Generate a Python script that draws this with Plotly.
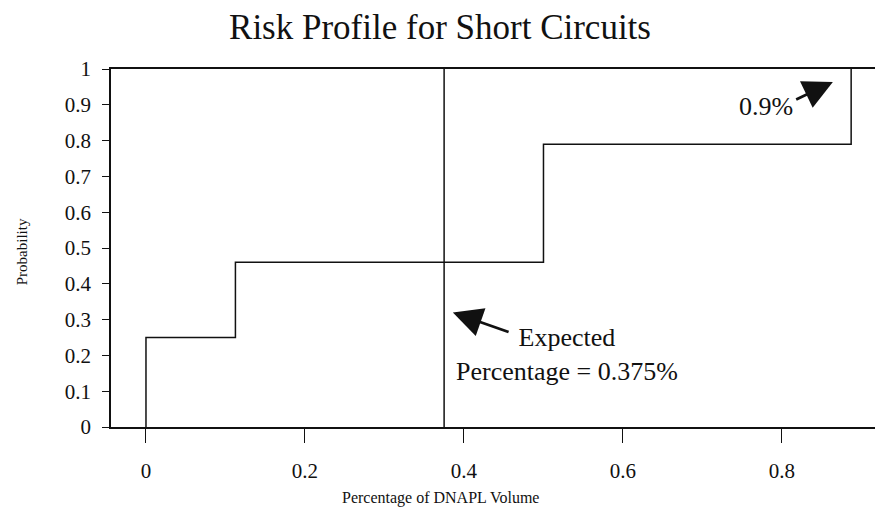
import plotly.graph_objects as go

# Data
step_x = [0, 0, 0.1125, 0.5, 0.887]
step_y = [0, 0.25, 0.46, 0.79, 1.0]
expected_x = [0.375, 0.375]
expected_y = [0, 1]
x_ticks = [0, 0.2, 0.4, 0.6, 0.8]
x_tick_labels = ["0", "0.2", "0.4", "0.6", "0.8"]
y_ticks = [0, 0.1, 0.2, 0.3, 0.4, 0.5, 0.6, 0.7, 0.8, 0.9, 1]
y_tick_labels = ["0", "0.1", "0.2", "0.3", "0.4", "0.5", "0.6", "0.7", "0.8", "0.9", "1"]

FONT = "Liberation Serif, Times New Roman, serif"
INK = "#111111"

fig = go.Figure()
fig.add_trace(go.Scatter(x=step_x, y=step_y, mode="lines", line=dict(color=INK, width=1.5, shape="hv"),
                         showlegend=False, hoverinfo="skip"))
fig.add_trace(go.Scatter(x=expected_x, y=expected_y, mode="lines", line=dict(color=INK, width=1.5),
                         showlegend=False, hoverinfo="skip"))

fig.update_layout(
    width=875, height=525,
    margin=dict(l=111, r=0, t=69, b=98),
    paper_bgcolor="white", plot_bgcolor="white",
    font=dict(family=FONT, color=INK),
    title=dict(text="Risk Profile for Short Circuits", x=440 / 875, xref="container", xanchor="center",
               y=1 - 27 / 525, yref="container", yanchor="middle",
               font=dict(family=FONT, size=35, color=INK)),
    xaxis=dict(range=[-0.044, 0.917], tickvals=x_ticks, ticktext=x_tick_labels,
               showgrid=False, zeroline=False, showline=True, linecolor=INK, linewidth=1.5,
               mirror=True, ticks="outside", ticklen=14, tickcolor=INK, tickwidth=1,
               ticklabelstandoff=10, tickfont=dict(family=FONT, size=21, color=INK)),
    yaxis=dict(range=[0, 1], tickvals=y_ticks, ticktext=y_tick_labels,
               showgrid=False, zeroline=False, showline=True, linecolor=INK, linewidth=1.5,
               ticks="outside", ticklen=7, tickcolor=INK, tickwidth=1,
               ticklabelstandoff=7, tickfont=dict(family=FONT, size=21, color=INK)),
)

annotations = [
    # axis titles
    dict(text="Probability", xref="paper", yref="paper", x=(22 - 111) / 764, y=(426.5 - 252) / 357.5,
         showarrow=False, textangle=-90, font=dict(family=FONT, size=15, color=INK),
         xanchor="center", yanchor="middle"),
    dict(text="Percentage of DNAPL Volume", xref="paper", yref="paper", x=(440 - 111) / 764,
         y=(426.5 - 497) / 357.5, showarrow=False, font=dict(family=FONT, size=16, color=INK),
         xanchor="center", yanchor="middle"),
    # 0.9% label and arrow
    dict(text="0.9%", x=0.780, y=0.894, xref="x", yref="y", showarrow=False,
         font=dict(family=FONT, size=26, color=INK), xanchor="center", yanchor="middle"),
    dict(text="", x=0.864, y=0.964, ax=0.816, ay=0.913, xref="x", yref="y", axref="x", ayref="y",
         showarrow=True, arrowhead=2, arrowsize=2.1, arrowwidth=2.8, arrowcolor=INK),
    # Expected label and arrow
    dict(text="Expected<br>Percentage = 0.375%", x=0.529, y=0.203, xref="x", yref="y", showarrow=False,
         font=dict(family=FONT, size=26, color=INK), xanchor="center", yanchor="middle", align="center"),
    dict(text="", x=0.386, y=0.320, ax=0.458, ay=0.264, xref="x", yref="y", axref="x", ayref="y",
         showarrow=True, arrowhead=2, arrowsize=2.1, arrowwidth=2.8, arrowcolor=INK),
]
fig.update_layout(annotations=annotations)

fig.write_html("out.html", config={"displayModeBar": False},
               post_script="document.body.style.margin='0';document.body.style.overflow='hidden';")
